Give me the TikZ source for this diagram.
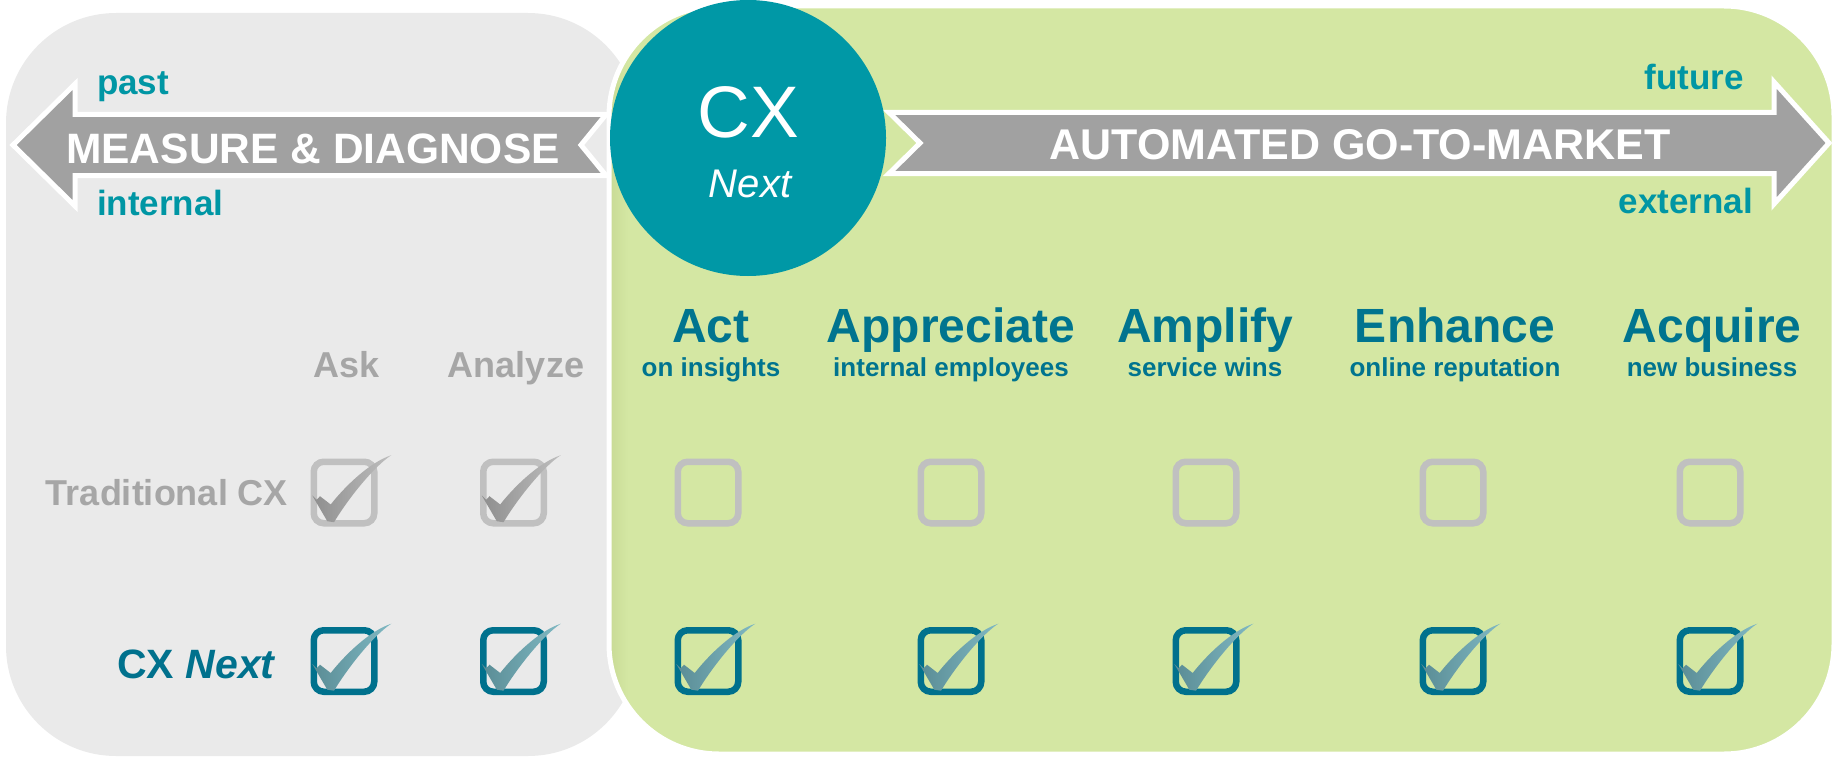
\documentclass[tikz,border=0pt]{standalone}
\usepackage{fontspec}
\setmainfont{Liberation Sans}
\definecolor{panelgray}{HTML}{EAEAEA}
\definecolor{panelgreen}{HTML}{D4E7A3}
\definecolor{greenshade}{HTML}{C8DA95}
\definecolor{bandgray}{HTML}{A1A1A1}
\definecolor{hubteal}{HTML}{0098A6}
\definecolor{labelteal}{HTML}{0096A4}
\definecolor{headteal}{HTML}{00748F}
\definecolor{mutedgray}{HTML}{A6A6A6}
\definecolor{boxgray}{HTML}{C0C0C0}
\definecolor{boxteal}{HTML}{00718D}
\definecolor{tickgrayA}{HTML}{8E8E8E}
\definecolor{tickgrayB}{HTML}{BEBEBE}
\definecolor{tickteallA}{HTML}{5A8C95}
\definecolor{tickteallB}{HTML}{80B9C3}
\newcommand\setfs[1]{\fontsize{#1}{#1}\selectfont}
\begin{document}
\begin{tikzpicture}[x=1pt,y=-1pt,
  every node/.style={inner sep=0pt,outer sep=0pt},
  sidelabel/.style={font=\bfseries\setfs{35},text=labelteal},
  bandtext/.style={font=\bfseries\setfs{42.5},text=white,anchor=base},
  headword/.style={font=\bfseries\setfs{48},text=headteal,anchor=base},
  subword/.style={font=\bfseries\setfs{26},text=headteal,anchor=base},
  oldword/.style={font=\bfseries\setfs{36},text=mutedgray},
  bandarrow/.style={fill=bandgray,draw=white,line width=5pt,line join=miter},
  cbox/.style={rectangle,rounded corners=10pt,minimum width=60.5pt,
    minimum height=61.5pt,line width=6.5pt},
  cboxgray/.style={cbox,draw=boxgray},
  cboxteal/.style={cbox,draw=boxteal},
  tickgray/.pic={
    \shade[left color=tickgrayA,right color=tickgrayB]
      (-31.7,3) -- (-27.3,7.3) -- (-24,3.7) -- (-13.3,12)
      .. controls (0,-5) and (25,-30) .. (47.3,-37.3)
      .. controls (30,-26) and (5,5) .. (-10,29.7)
      -- (-16.7,28.7) -- cycle;
  },
  tickteal/.pic={
    \shade[left color=tickteallA,right color=tickteallB]
      (-31.7,3) -- (-27.3,7.3) -- (-24,3.7) -- (-13.3,12)
      .. controls (0,-5) and (25,-30) .. (47.3,-37.3)
      .. controls (30,-26) and (5,5) .. (-10,29.7)
      -- (-16.7,28.7) -- cycle;
  }]
\useasboundingbox (0,0) rectangle (1836,757);

% the two background panels
\fill[panelgray,rounded corners=110pt] (6,13) rectangle (638,756);
\fill[panelgreen,rounded corners=110pt] (609,6) rectangle (1834,754);
\begin{scope}
  \clip[rounded corners=110pt] (609,6) rectangle (1834,754);
  \shade[left color=greenshade,right color=panelgreen] (609,0) rectangle (628,757);
\end{scope}
\draw[white,line width=5pt,rounded corners=110pt] (609,6) rectangle (1834,754);

% direction bands
\draw[bandarrow] (13,145) -- (75,84) -- (75,114.5) -- (606,114.5) -- (581,145)
  -- (606,175.5) -- (75,175.5) -- (75,206) -- cycle;
\draw[bandarrow] (889,112.5) -- (1774,112.5) -- (1774,82) -- (1829,143)
  -- (1774,204) -- (1774,173.5) -- (889,173.5) -- (920,143) -- cycle;
\node[bandtext] (measure) at (313,163) {MEASURE \& DIAGNOSE};
\node[bandtext,font=\bfseries\setfs{43}] (gtm) at (1360,160) {AUTOMATED GO-TO-MARKET};
\node[sidelabel,anchor=base west] (past) at (97,95) {past};
\node[sidelabel,anchor=base west] (internal) at (97,215) {internal};
\node[sidelabel,anchor=base east] (future) at (1744,90) {future};
\node[sidelabel,anchor=base east] (external) at (1753,213) {external};

% central hub
\node[circle,fill=hubteal,minimum size=276pt] (hub) at (748,138) {};
\node[font=\setfs{73},text=white,anchor=base] (hubcx) at (748,138) {CX};
\node[font=\itshape\setfs{40},text=white,anchor=base] (hubnext) at (750,197) {Next};

% column headings
\node[oldword,anchor=base] (h-ask) at (347,377) {Ask};
\node[oldword,anchor=base] (h-analyze) at (516,377) {Analyze};
\node[headword] (h-act) at (711,342) {Act};
\node[subword] (s-act) at (711,376) {on insights};
\node[headword] (h-appreciate) at (951,342) {Appreciate};
\node[subword] (s-appreciate) at (951,376) {internal employees};
\node[headword] (h-amplify) at (1205,342) {Amplify};
\node[subword] (s-amplify) at (1205,376) {service wins};
\node[headword] (h-enhance) at (1455,342) {Enhance};
\node[subword] (s-enhance) at (1455,376) {online reputation};
\node[headword] (h-acquire) at (1712,342) {Acquire};
\node[subword] (s-acquire) at (1712,376) {new business};

% row labels
\node[oldword,anchor=base east] (r-trad) at (288,505) {Traditional CX};
\node[font=\bfseries\setfs{41},text=boxteal,anchor=base east] (r-next) at (276,678) {CX \textit{Next}};

% check boxes
\foreach \n/\x in {ask/344,analyze/513.5}{
  \node[cboxgray] (t-\n) at (\x,492.5) {};
  \pic at (t-\n.center) {tickgray};
}
\foreach \n/\x in {act/708,appreciate/951,amplify/1206,enhance/1453,acquire/1710}{
  \node[cboxgray] (t-\n) at (\x,492.5) {};
}
\foreach \n/\x in {ask/344,analyze/513.5,act/708,appreciate/951,amplify/1206,enhance/1453,acquire/1710}{
  \node[cboxteal] (n-\n) at (\x,661) {};
  \pic at (n-\n.center) {tickteal};
}
\end{tikzpicture}
\end{document}
